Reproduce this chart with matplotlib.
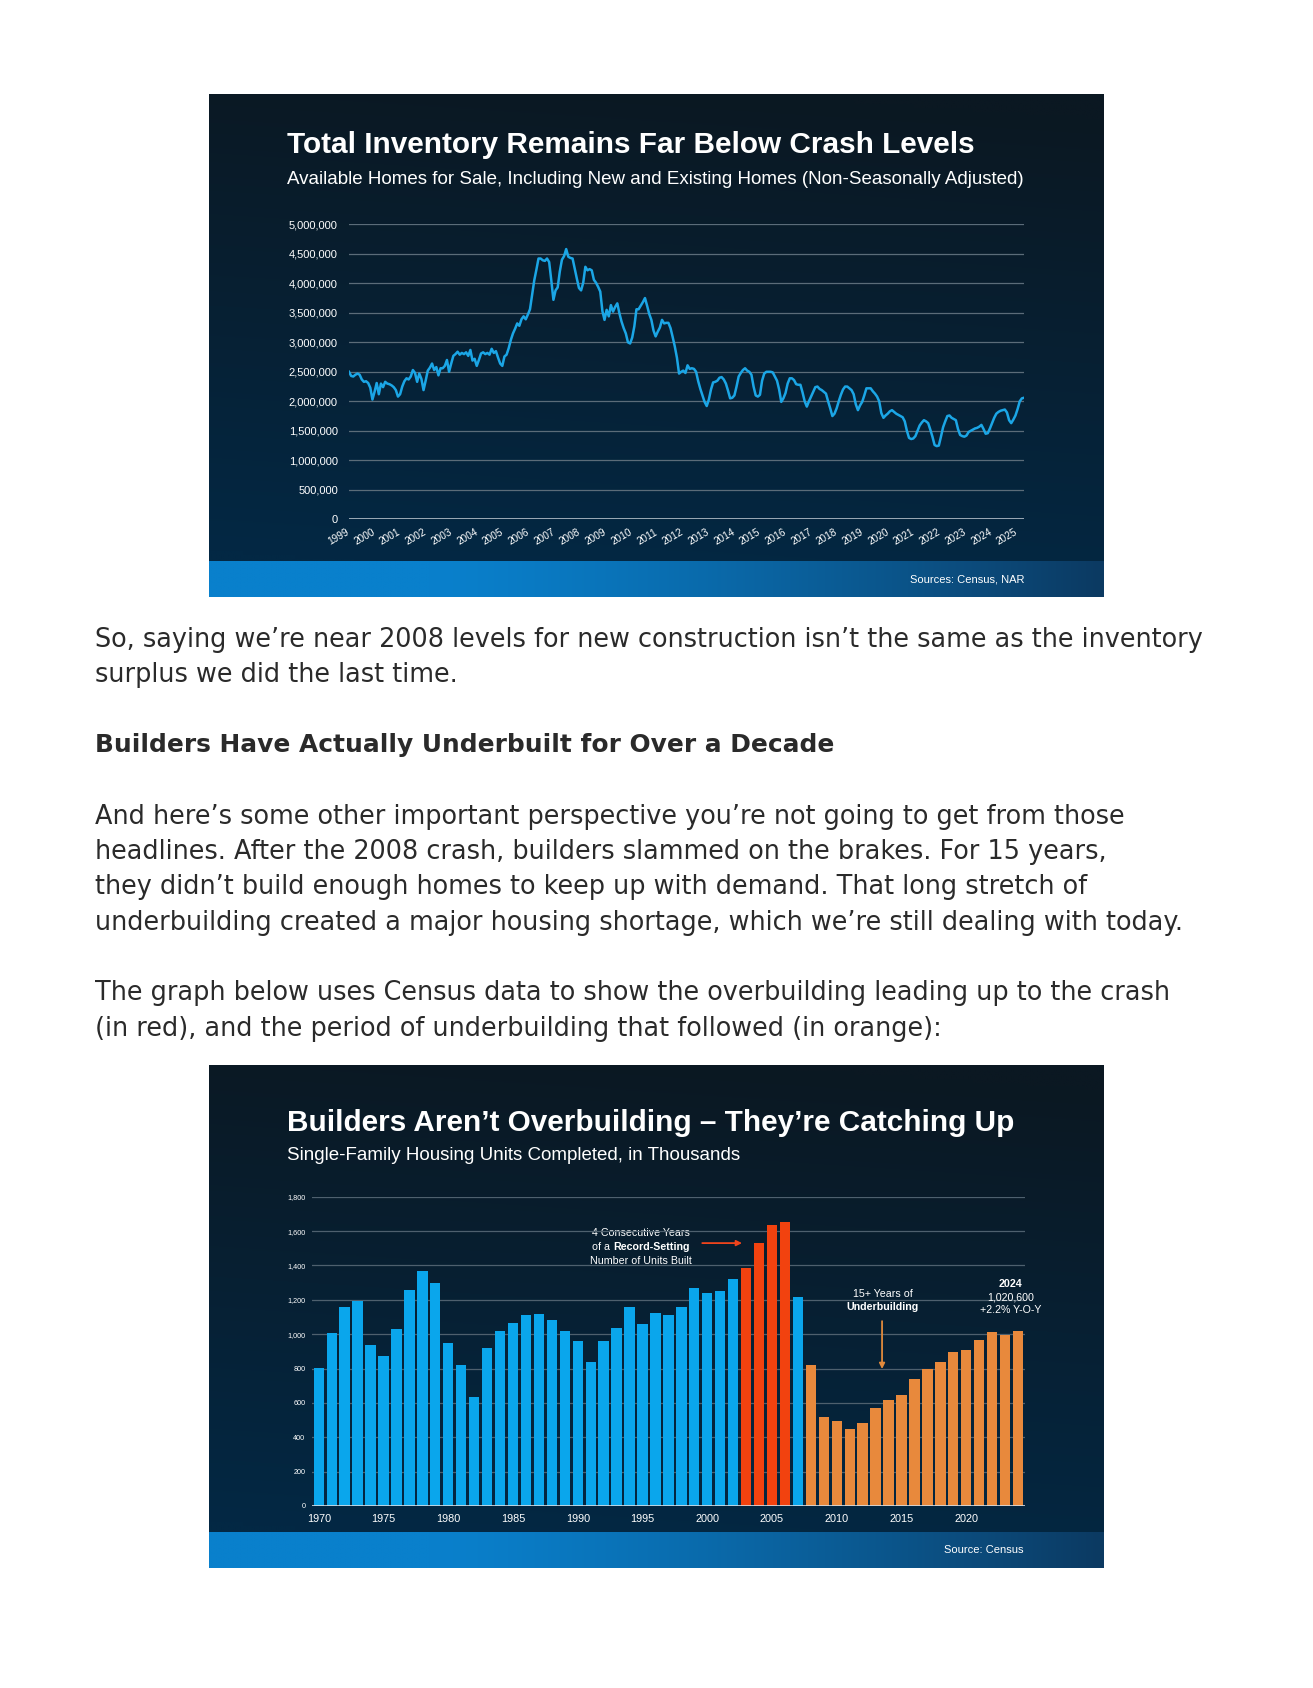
import numpy as np
import matplotlib.pyplot as plt
import matplotlib.transforms as mtransforms
from matplotlib.ticker import FuncFormatter

# total inventory (new + existing homes), monthly, thousands
inv_1999 = [2500, 2430, 2420, 2450, 2470, 2450, 2370, 2330, 2340, 2310, 2230, 2030]
inv_2000 = [2160, 2310, 2120, 2300, 2240, 2330, 2300, 2290, 2270, 2240, 2190, 2080]
inv_2001 = [2120, 2250, 2340, 2390, 2370, 2420, 2530, 2480, 2330, 2470, 2380, 2190]
inv_2002 = [2350, 2520, 2570, 2640, 2530, 2580, 2440, 2560, 2560, 2600, 2700, 2500]
inv_2003 = [2640, 2770, 2800, 2840, 2790, 2820, 2800, 2830, 2770, 2870, 2690, 2720]
inv_2004 = [2600, 2700, 2810, 2830, 2800, 2820, 2790, 2890, 2820, 2850, 2740, 2640]
inv_2005 = [2600, 2760, 2790, 2900, 3040, 3150, 3230, 3320, 3280, 3390, 3440, 3390]
inv_2006 = [3470, 3560, 3800, 4050, 4230, 4420, 4420, 4390, 4380, 4420, 4360, 4050]
inv_2007 = [3720, 3880, 3930, 4200, 4400, 4460, 4580, 4450, 4430, 4420, 4250, 4080]
inv_2008 = [3920, 3880, 4010, 4280, 4220, 4240, 4220, 4060, 4010, 3940, 3860, 3530]
inv_2009 = [3380, 3550, 3440, 3630, 3520, 3600, 3660, 3490, 3350, 3240, 3150, 3000]
inv_2010 = [2980, 3080, 3270, 3560, 3560, 3620, 3680, 3750, 3620, 3480, 3380, 3200]
inv_2011 = [3100, 3180, 3250, 3380, 3320, 3330, 3330, 3240, 3090, 2930, 2740, 2470]
inv_2012 = [2500, 2520, 2480, 2610, 2550, 2560, 2550, 2500, 2340, 2210, 2100, 1990]
inv_2013 = [1920, 2030, 2200, 2320, 2330, 2350, 2400, 2410, 2370, 2300, 2180, 2050]
inv_2014 = [2060, 2100, 2250, 2420, 2480, 2530, 2560, 2520, 2500, 2450, 2250, 2100]
inv_2015 = [2080, 2110, 2350, 2470, 2500, 2500, 2500, 2490, 2420, 2350, 2200, 1990]
inv_2016 = [2050, 2140, 2300, 2390, 2390, 2360, 2290, 2280, 2280, 2150, 2000, 1910]
inv_2017 = [2000, 2080, 2160, 2240, 2250, 2210, 2190, 2160, 2130, 2000, 1880, 1750]
inv_2018 = [1790, 1880, 2000, 2110, 2200, 2250, 2250, 2220, 2190, 2120, 1950, 1850]
inv_2019 = [1930, 1990, 2100, 2220, 2220, 2220, 2170, 2130, 2080, 2000, 1800, 1720]
inv_2020 = [1760, 1790, 1830, 1850, 1820, 1790, 1770, 1750, 1730, 1660, 1500, 1380]
inv_2021 = [1360, 1370, 1410, 1500, 1590, 1640, 1680, 1660, 1630, 1520, 1400, 1260]
inv_2022 = [1240, 1250, 1400, 1560, 1660, 1750, 1760, 1720, 1700, 1680, 1530, 1430]
inv_2023 = [1410, 1400, 1420, 1480, 1500, 1520, 1540, 1550, 1570, 1600, 1530, 1450]
inv_2024 = [1460, 1540, 1630, 1720, 1790, 1820, 1840, 1850, 1860, 1810, 1680, 1630]
inv_2025 = [1690, 1760, 1870, 2000, 2050, 2060]
inventory = (inv_1999 + inv_2000 + inv_2001 + inv_2002 + inv_2003 + inv_2004 + inv_2005
             + inv_2006 + inv_2007 + inv_2008 + inv_2009 + inv_2010 + inv_2011 + inv_2012
             + inv_2013 + inv_2014 + inv_2015 + inv_2016 + inv_2017 + inv_2018 + inv_2019
             + inv_2020 + inv_2021 + inv_2022 + inv_2023 + inv_2024 + inv_2025)
inv_labels = [str(y) for y in range(1999, 2026)]

# single-family housing units completed, thousands
comp_years = list(range(1970, 2025))
completions = [801, 1009, 1156, 1195, 937, 871, 1030, 1255, 1368, 1298,
               951, 819, 632, 918, 1018, 1067, 1114, 1116, 1081, 1020,
               962, 838, 960, 1036, 1156, 1061, 1123, 1113, 1156, 1267,
               1238, 1251, 1321, 1383, 1528, 1635, 1653, 1214, 819, 518,
               497, 446, 485, 568, 619, 646, 739, 797, 840, 896,
               908, 964, 1014, 993, 1021]
record_years = [2003, 2004, 2005, 2006]

para1 = ["So, saying we\u2019re near 2008 levels for new construction isn\u2019t the same as the inventory",
         "surplus we did the last time."]
heading = "Builders Have Actually Underbuilt for Over a Decade"
para2 = ["And here\u2019s some other important perspective you\u2019re not going to get from those",
         "headlines. After the 2008 crash, builders slammed on the brakes. For 15 years,",
         "they didn\u2019t build enough homes to keep up with demand. That long stretch of",
         "underbuilding created a major housing shortage, which we\u2019re still dealing with today."]
para3 = ["The graph below uses Census data to show the overbuilding leading up to the crash",
         "(in red), and the period of underbuilding that followed (in orange):"]

W, H = 1313, 1688
fig = plt.figure(figsize=(W / 100, H / 100), dpi=100)
fig.patch.set_facecolor('white')
bg = fig.add_axes([0, 0, 1, 1])
bg.set_xlim(0, W)
bg.set_ylim(H, 0)
bg.axis('off')
renderer = fig.canvas.get_renderer()
SANS = 'Liberation Sans'


def fit_size(txt, width, **kw):
    t = bg.text(0, 0, txt, fontsize=10, **kw)
    w = t.get_window_extent(renderer).width
    t.remove()
    return 10 * width / w


def box(l, t, r, b):
    return [l / W, 1 - b / H, (r - l) / W, (b - t) / H]


def panel(top, band, bottom, x0=209, x1=1104):
    # dark navy slide background with a bright blue footer band
    n = 120
    ty = np.linspace(0, 1, n)[:, None]
    sx = np.linspace(0, 1, n)[None, :]
    c_top = np.array([11, 24, 34]) / 255
    c_bot = np.array([3, 40, 68]) / 255
    w = np.clip(ty * 0.95 + (1 - sx) * 0.12 - 0.05, 0, 1)[..., None]
    img = c_top * (1 - w) + c_bot * w
    bg.imshow(img, extent=[x0, x1, band, top], aspect='auto', interpolation='bilinear', zorder=1)
    s = np.linspace(0, 1, n)
    c_l = np.array([9, 128, 204]) / 255
    c_r = np.array([12, 58, 98]) / 255
    ws = (np.clip((s - 0.25) / 0.75, 0, 1) ** 1.3)[:, None]
    strip = c_l * (1 - ws) + c_r * ws
    bg.imshow(strip[None, :, :], extent=[x0, x1, bottom, band], aspect='auto',
              interpolation='bilinear', zorder=1)


title_size = 21.4
sub_size = fit_size("Single-Family Housing Units Completed, in Thousands", 455, family=SANS)

# ---------------- chart 1 ----------------
panel(94, 561, 597)
bg.text(287, 145, "Total Inventory Remains Far Below Crash Levels", fontsize=title_size,
        family=SANS, weight='bold', color='white', va='center', zorder=3)
bg.text(287, 180, "Available Homes for Sale, Including New and Existing Homes (Non-Seasonally Adjusted)",
        fontsize=sub_size, family=SANS, color='white', va='center', zorder=3)
bg.text(1024, 579, "Sources: Census, NAR", fontsize=8, family=SANS, color='white',
        ha='right', va='center', zorder=3)

ax1 = fig.add_axes(box(349, 224.3, 1024, 519.3))
ax1.patch.set_alpha(0)
xm = 1999 + np.arange(len(inventory)) / 12
ax1.plot(xm, np.array(inventory) * 1000, color='#1ba6e6', lw=1.8, solid_joinstyle='round')
ax1.set_xlim(1999, xm[-1])
ax1.set_ylim(0, 5000000)
ax1.set_yticks(np.arange(0, 5000001, 500000))
ax1.yaxis.set_major_formatter(FuncFormatter(lambda v, p: f'{v:,.0f}'))
ax1.grid(axis='y', color='#5b6c79', lw=0.9)
ax1.axhline(0, color='#c3ccd4', lw=1.1)
ax1.set_axisbelow(True)
for sp in ax1.spines.values():
    sp.set_visible(False)
ax1.tick_params(axis='y', length=0, pad=8, labelsize=8, labelcolor='white')
ax1.set_xticks([])
for lab in ax1.get_yticklabels():
    lab.set_family(SANS)
lab_x = np.linspace(1998.6, 2024.75, len(inv_labels))
trans1 = mtransforms.blended_transform_factory(ax1.transData, ax1.transAxes)
for xv, lab in zip(lab_x, inv_labels):
    ax1.text(xv, -0.06, lab, transform=trans1, rotation=30, rotation_mode='anchor',
             ha='center', va='center', fontsize=7.2, family=SANS, color='white', clip_on=False)

# ---------------- body text ----------------
body_color = '#2a2a2a'
body_size = fit_size(para1[0], 1107, family='DejaVu Sans')
head_size = fit_size(heading, 737, family='DejaVu Sans', weight='bold')
for txt, y in zip(para1, [640, 675.5]):
    bg.text(95, y, txt, fontsize=body_size, family='DejaVu Sans', color=body_color, va='center')
bg.text(95, 745, heading, fontsize=head_size, family='DejaVu Sans', weight='bold',
        color=body_color, va='center')
for txt, y in zip(para2, [817, 852, 887, 922.5]):
    bg.text(95, y, txt, fontsize=body_size, family='DejaVu Sans', color=body_color, va='center')
for txt, y in zip(para3, [993.5, 1029]):
    bg.text(95, y, txt, fontsize=body_size, family='DejaVu Sans', color=body_color, va='center')

# ---------------- chart 2 ----------------
panel(1065.4, 1532, 1567.7)
bg.text(287, 1123, "Builders Aren\u2019t Overbuilding \u2013 They\u2019re Catching Up", fontsize=title_size,
        family=SANS, weight='bold', color='white', va='center', zorder=3)
bg.text(287, 1155.5, "Single-Family Housing Units Completed, in Thousands",
        fontsize=sub_size, family=SANS, color='white', va='center', zorder=3)
bg.text(1024, 1550, "Source: Census", fontsize=8, family=SANS, color='white',
        ha='right', va='center', zorder=3)

ax2 = fig.add_axes(box(312.3, 1196.7, 1024.5, 1506))
ax2.patch.set_alpha(0)
bar_colors = ['#f2420f' if y in record_years else ('#e8893c' if y >= 2008 else '#0aa6ec')
              for y in comp_years]
ax2.bar(comp_years, completions, width=0.8, color=bar_colors, zorder=2)
ax2.set_xlim(1969.5, 2024.5)
ax2.set_ylim(0, 1800)
ax2.set_yticks(np.arange(0, 1801, 200))
ax2.yaxis.set_major_formatter(FuncFormatter(lambda v, p: f'{v:,.0f}'))
ax2.grid(axis='y', color='#4e606e', lw=0.9, zorder=0)
ax2.axhline(0, color='#d8dee4', lw=1.2, zorder=3)
ax2.set_axisbelow(True)
for sp in ax2.spines.values():
    sp.set_visible(False)
ax2.set_xticks(range(1970, 2021, 5))
ax2.tick_params(axis='y', length=0, pad=5, labelsize=5.2, labelcolor='white')
ax2.tick_params(axis='x', length=0, pad=6, labelsize=7.8, labelcolor='white')
for lab in ax2.get_yticklabels() + ax2.get_xticklabels():
    lab.set_family(SANS)


def mixed_line(parts, cx, cy, size):
    # a centred line made of regular/bold pieces, in page pixel coords
    texts = []
    total = 0
    for s, wgt in parts:
        t = bg.text(0, cy, s, fontsize=size, family=SANS, weight=wgt, color='white',
                    va='center', ha='left', zorder=4)
        wd = t.get_window_extent(renderer).width
        texts.append((t, wd))
        total += wd
    x = cx - total / 2
    for t, wd in texts:
        t.set_x(x)
        x += wd


ann = 7.7
mixed_line([("4 Consecutive Years", 'normal')], 641, 1233.3, ann)
mixed_line([("of a ", 'normal'), ("Record-Setting", 'bold')], 641, 1247, ann)
mixed_line([("Number of Units Built", 'normal')], 641, 1260.7, ann)
ax2.annotate('', xy=(2002.9, 1530), xytext=(1999.4, 1530),
             arrowprops=dict(arrowstyle='-|>', color='#f0441c', lw=1.3, mutation_scale=8))

ax2.text(2013.55, 1234, "15+ Years of", fontsize=ann, family=SANS, color='white',
         ha='center', va='center')
ax2.text(2013.55, 1156, "Underbuilding", fontsize=ann, family=SANS, weight='bold', color='white',
         ha='center', va='center')
ax2.annotate('', xy=(2013.5, 781), xytext=(2013.5, 1092),
             arrowprops=dict(arrowstyle='-|>', color='#e08a3c', lw=1.3, mutation_scale=8))

ax2.text(2023.43, 1292, "2024", fontsize=ann, family=SANS, weight='bold', color='white',
         ha='center', va='center')
ax2.text(2023.43, 1215, "1,020,600", fontsize=ann, family=SANS, color='white',
         ha='center', va='center')
ax2.text(2023.43, 1141, "+2.2% Y-O-Y", fontsize=ann, family=SANS, color='white',
         ha='center', va='center')

fig.savefig('out.png', dpi=100, facecolor='white')
